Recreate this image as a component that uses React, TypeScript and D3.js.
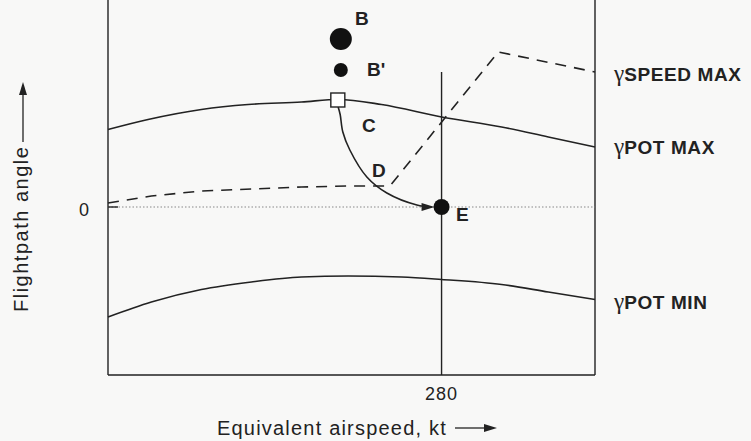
import * as d3 from "d3";

// airspeed (kt) / flightpath angle (deg)
const potMaxKt = [180, 192, 208, 222, 238, 249, 262, 280, 298, 312, 326];
const potMaxGamma = [3.1, 3.5, 3.9, 4.1, 4.2, 4.3, 4.1, 3.6, 3.2, 2.8, 2.4];

const potMinKt = [180, 193, 208, 223, 238, 252, 268, 280, 298, 312, 326];
const potMinGamma = [-4.4, -3.8, -3.3, -3.0, -2.8, -2.76, -2.8, -2.9, -3.1, -3.4, -3.7];

const speedMaxKt = [180, 193, 208, 223, 238, 252, 264, 265, 297, 326];
const speedMaxGamma = [0.16, 0.44, 0.64, 0.72, 0.8, 0.84, 0.84, 0.92, 6.2, 5.4];

const pathKt = [249, 249.6, 250.4, 252.5, 257.6, 263.6, 272.6, 277];
const pathGamma = [4.0, 3.7, 3.0, 2.28, 1.2, 0.56, 0.08, 0];

const pointNames = ["B", "B'", "square", "E"];
const pointKt = [249.8, 249.8, 248.9, 280];
const pointGamma = [6.72, 5.48, 4.28, 0];

const xTicks = [280];
const yTicks = [0];

const W = 751;
const H = 441;
const left = 108;
const right = 595;
const top = 0;
const bottom = 375;

const font = "'Liberation Sans', Arial, Helvetica, sans-serif";
const ink = "#222";

// filled arrow head with tip at (tx,ty), pointing along angle a
const head = (tx: number, ty: number, a: number, len = 12, half = 3.5) => {
  const c = Math.cos(a);
  const s = Math.sin(a);
  const bx = tx - c * len;
  const by = ty - s * len;
  return `M${tx},${ty}L${bx - s * half},${by + c * half}L${bx + s * half},${by - c * half}Z`;
};

export default function App() {
  const x = d3.scaleLinear().domain([180, 326]).range([left, right]);
  const y = d3.scaleLinear().domain([-6.72, 8.28]).range([bottom, top]);

  const zip = (a: number[], b: number[]) => a.map((v, i) => [v, b[i]] as [number, number]);
  const smooth = d3
    .line<[number, number]>()
    .x((d) => x(d[0]))
    .y((d) => y(d[1]))
    .curve(d3.curveMonotoneX);
  const straight = d3
    .line<[number, number]>()
    .x((d) => x(d[0]))
    .y((d) => y(d[1]));
  const catmull = d3
    .line<[number, number]>()
    .x((d) => x(d[0]))
    .y((d) => y(d[1]))
    .curve(d3.curveCatmullRom);

  const pt = (name: string) => {
    const i = pointNames.indexOf(name);
    return [x(pointKt[i]), y(pointGamma[i])];
  };
  const [bx, by] = pt("B");
  const [b2x, b2y] = pt("B'");
  const [sx, sy] = pt("square");
  const [ex, ey] = pt("E");
  const arrowEnd = x(pathKt[pathKt.length - 1]) + 3;

  const gamma = (label: string, yy: number) => (
    <text x={614} y={yy} fill={ink}>
      <tspan fontFamily="'Liberation Serif', 'DejaVu Serif', serif" fontSize={23}>
        γ
      </tspan>
      <tspan fontFamily={font} fontSize={19} fontWeight="bold" letterSpacing={0.6}>
        {label}
      </tspan>
    </text>
  );

  return (
    <svg
      width={W}
      height={H}
      style={{ position: "absolute", left: 0, top: 0, background: "#f8f8f7" }}
    >
      {/* frame */}
      <line x1={left} x2={left} y1={top} y2={bottom} stroke={ink} strokeWidth={1.4} />
      <line x1={right} x2={right} y1={top} y2={bottom} stroke={ink} strokeWidth={1.4} />
      <line x1={left} x2={right} y1={bottom} y2={bottom} stroke={ink} strokeWidth={1.4} />

      {/* zero line */}
      {yTicks.map((t) => (
        <g key={t}>
          <line x1={left} x2={right} y1={y(t)} y2={y(t)} stroke="#888" strokeWidth={1} strokeDasharray="1.5,2" />
          <line x1={left} x2={left + 10} y1={y(t)} y2={y(t)} stroke={ink} strokeWidth={1.4} />
          <text x={84} y={216} fontFamily={font} fontSize={18} fill={ink} textAnchor="middle">
            {t}
          </text>
        </g>
      ))}

      {/* 280 kt line */}
      {xTicks.map((t) => (
        <g key={t}>
          <line x1={x(t)} x2={x(t)} y1={y(5.4)} y2={bottom} stroke={ink} strokeWidth={1.4} />
          <text x={x(t)} y={400} fontFamily={font} fontSize={18} letterSpacing={1} fill={ink} textAnchor="middle">
            {t}
          </text>
        </g>
      ))}

      <path d={smooth(zip(potMaxKt, potMaxGamma)) || ""} fill="none" stroke={ink} strokeWidth={1.6} />
      <path d={smooth(zip(potMinKt, potMinGamma)) || ""} fill="none" stroke={ink} strokeWidth={1.6} />
      <path
        d={straight(zip(speedMaxKt, speedMaxGamma)) || ""}
        fill="none"
        stroke={ink}
        strokeWidth={1.6}
        strokeDasharray="11,8"
      />

      {/* trajectory C */}
      <path d={catmull(zip(pathKt, pathGamma)) || ""} fill="none" stroke={ink} strokeWidth={1.6} />
      <path d={head(arrowEnd, ey, 0, 13, 4)} fill={ink} />

      <circle cx={bx} cy={by} r={11} fill="#111" />
      <circle cx={b2x} cy={b2y} r={7} fill="#111" />
      <rect x={sx - 7} y={sy - 7} width={14} height={14} fill="#fff" stroke={ink} strokeWidth={1.4} />
      <circle cx={ex} cy={ey} r={8} fill="#111" />

      <g fontFamily={font} fontSize={19} fontWeight="bold" fill={ink}>
        <text x={355} y={25}>B</text>
        <text x={367} y={76}>B'</text>
        <text x={362} y={132}>C</text>
        <text x={372} y={177}>D</text>
        <text x={456} y={221}>E</text>
      </g>

      {gamma("SPEED MAX", 81)}
      {gamma("POT MAX", 154)}
      {gamma("POT MIN", 309)}

      {/* axis titles */}
      <text
        transform="translate(28,312) rotate(-90)"
        fontFamily={font}
        fontSize={20}
        letterSpacing={1.5}
        fill={ink}
      >
        Flightpath angle
      </text>
      <line x1={23} x2={23} y1={142} y2={92} stroke={ink} strokeWidth={1.3} />
      <path d={head(23, 82, -Math.PI / 2, 13, 4)} fill={ink} />

      <text x={217} y={435} fontFamily={font} fontSize={20} letterSpacing={1.2} fill={ink}>
        Equivalent airspeed, kt
      </text>
      <line x1={455} x2={487} y1={428} y2={428} stroke={ink} strokeWidth={1.3} />
      <path d={head(497, 428, 0, 13, 4)} fill={ink} />
    </svg>
  );
}
